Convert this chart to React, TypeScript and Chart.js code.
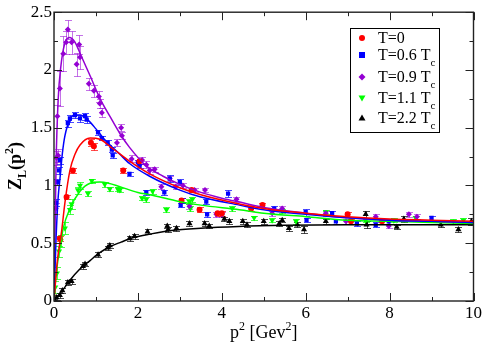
import React, { useEffect, useRef } from "react";
import { Chart, registerables } from "chart.js";
Chart.register(...registerables);

// ---------- tick labels ----------
const X_TICKS = [0, 2, 4, 6, 8, 10];
const Y_TICKS = [0, 0.5, 1, 1.5, 2, 2.5];

// ---------- legend ----------
const LEGEND_MAIN = ["T=0", "T=0.6 T", "T=0.9 T", "T=1.1 T", "T=2.2 T"];
const LEGEND_SUB = ["", "c", "c", "c", "c"];

// ---------- T=0 (red) ----------
const T0_X = [0.14, 0.3, 0.45, 0.88, 0.95, 1.65, 2.04, 3.04, 3.28, 3.47, 3.9, 4.0, 4.7, 4.97, 7.0, 7.08, 7.82];
const T0_Y = [0.54, 0.9, 1.13, 1.37, 1.34, 1.13, 1.21, 0.87, 0.96, 0.79, 0.76, 0.76, 0.8, 0.83, 0.75, 0.69, 0.69];
const T0_E = [0.02, 0.02, 0.02, 0.03, 0.03, 0.02, 0.02, 0.02, 0.02, 0.02, 0.02, 0.02, 0.02, 0.02, 0.02, 0.02, 0.02];
const FIT_T0_X = [0, 0.08, 0.18, 0.26, 0.38, 0.5, 0.62, 0.86, 1.09, 1.4, 1.8, 2.28, 3.0, 3.5, 4.42, 5, 6, 7, 8, 9, 10];
const FIT_T0_Y = [0, 0.35, 0.6, 0.85, 1.13, 1.27, 1.35, 1.41, 1.4, 1.32, 1.21, 1.1, 0.98, 0.92, 0.84, 0.8, 0.76, 0.73, 0.71, 0.7, 0.69];

// ---------- T=0.6 Tc (blue) ----------
const T06_X = [0.05, 0.07, 0.12, 0.14, 0.33, 0.38, 0.5, 0.62, 0.74, 0.78, 1.05, 1.14, 1.28, 1.38, 1.4, 1.8, 2.0, 2.04, 2.2, 2.63, 2.76, 3.0, 3.04, 3.02, 3.63, 3.65, 4.15, 5.25, 6.0, 6.02, 6.63, 6.72, 7.22, 7.67, 7.98, 9.0];
const T06_Y = [0.85, 1.03, 1.13, 1.22, 1.54, 1.58, 1.61, 1.58, 1.6, 1.57, 1.46, 1.41, 1.37, 1.31, 1.26, 1.1, 1.2, 1.17, 0.94, 0.94, 1.06, 1.03, 0.87, 0.83, 0.86, 0.75, 0.93, 0.8, 0.77, 0.7, 0.76, 0.69, 0.67, 0.66, 0.69, 0.72];
const T06_E = [0.03, 0.03, 0.03, 0.03, 0.03, 0.03, 0.03, 0.03, 0.03, 0.03, 0.02, 0.02, 0.02, 0.02, 0.02, 0.02, 0.02, 0.02, 0.02, 0.02, 0.03, 0.03, 0.02, 0.02, 0.02, 0.02, 0.03, 0.02, 0.03, 0.02, 0.02, 0.02, 0.02, 0.02, 0.02, 0.02];
const FIT_T06_X = [0, 0.05, 0.1, 0.14, 0.2, 0.26, 0.38, 0.5, 0.62, 0.8, 1.0, 1.2, 1.57, 1.8, 2.28, 3.0, 3.5, 4.42, 5, 6, 7, 8, 9, 10];
const FIT_T06_Y = [0, 0.55, 0.9, 1.05, 1.28, 1.43, 1.57, 1.61, 1.61, 1.57, 1.49, 1.4, 1.27, 1.19, 1.08, 0.96, 0.9, 0.83, 0.79, 0.75, 0.72, 0.7, 0.69, 0.68];

// ---------- T=0.9 Tc (purple) ----------
const T09_X = [0.04, 0.06, 0.08, 0.1, 0.14, 0.22, 0.29, 0.33, 0.42, 0.54, 0.6, 0.62, 0.83, 0.95, 1.07, 1.09, 1.14, 1.5, 1.6, 1.62, 1.85, 2.1, 2.2, 2.28, 2.4, 2.56, 2.76, 2.9, 3.07, 3.23, 3.35, 3.6, 3.87, 4.0, 4.35, 5.2, 5.44, 6.48, 6.96, 7.67, 7.98, 8.46, 8.65];
const T09_Y = [0.8, 1.24, 1.6, 1.26, 1.84, 2.14, 2.24, 2.35, 2.24, 2.05, 2.22, 2.11, 1.88, 1.82, 1.77, 1.71, 1.63, 1.37, 1.5, 1.43, 1.23, 1.22, 1.18, 1.13, 1.14, 0.99, 1.06, 0.99, 1.0, 0.82, 0.96, 0.96, 0.75, 0.75, 0.88, 0.76, 0.8, 0.76, 0.69, 0.73, 0.65, 0.75, 0.73];
const T09_E = [0.05, 0.06, 0.1, 0.06, 0.15, 0.15, 0.1, 0.08, 0.1, 0.1, 0.08, 0.1, 0.05, 0.05, 0.05, 0.04, 0.04, 0.03, 0.03, 0.03, 0.03, 0.03, 0.03, 0.03, 0.02, 0.02, 0.02, 0.02, 0.02, 0.02, 0.02, 0.02, 0.02, 0.02, 0.02, 0.02, 0.02, 0.02, 0.02, 0.02, 0.02, 0.02, 0.02];
const FIT_T09_X = [0, 0.05, 0.1, 0.16, 0.25, 0.37, 0.5, 0.65, 0.86, 1.1, 1.33, 1.57, 1.8, 2.2, 2.6, 3.0, 3.5, 4.0, 4.5, 5, 6, 7, 8, 9, 10];
const FIT_T09_Y = [0, 1.2, 1.75, 2.02, 2.22, 2.28, 2.24, 2.12, 1.95, 1.75, 1.6, 1.45, 1.33, 1.17, 1.08, 1.01, 0.94, 0.89, 0.85, 0.81, 0.76, 0.72, 0.7, 0.69, 0.68];

// ---------- T=1.1 Tc (green) ----------
const T11_X = [0.03, 0.07, 0.12, 0.16, 0.26, 0.38, 0.42, 0.57, 0.62, 0.81, 0.9, 1.21, 1.33, 1.52, 1.57, 2.1, 2.2, 2.35, 2.68, 3.23, 3.3, 3.25, 4.25, 4.77, 5.2, 5.44, 5.77, 6.48, 7.43, 8.1, 8.62, 9.52, 9.76];
const T11_Y = [0.12, 0.24, 0.43, 0.52, 0.63, 0.79, 0.84, 0.96, 1.0, 0.93, 1.04, 1.01, 0.97, 0.97, 0.96, 0.89, 0.88, 0.95, 0.79, 0.86, 0.88, 0.8, 0.8, 0.72, 0.7, 0.78, 0.69, 0.77, 0.7, 0.7, 0.72, 0.69, 0.7];
const T11_E = [0.05, 0.05, 0.05, 0.05, 0.05, 0.04, 0.04, 0.03, 0.03, 0.02, 0.02, 0.02, 0.02, 0.02, 0.02, 0.02, 0.02, 0.02, 0.02, 0.02, 0.02, 0.02, 0.02, 0.02, 0.02, 0.02, 0.02, 0.02, 0.02, 0.02, 0.02, 0.02, 0.02];
const FIT_T11_X = [0, 0.03, 0.07, 0.15, 0.22, 0.38, 0.62, 0.86, 1.09, 1.3, 1.57, 2.0, 2.28, 3.0, 3.5, 4.42, 5, 6, 7, 8, 9, 10];
const FIT_T11_Y = [0, 0.15, 0.29, 0.48, 0.63, 0.8, 0.95, 1.02, 1.03, 1.02, 0.99, 0.94, 0.92, 0.86, 0.83, 0.79, 0.76, 0.73, 0.7, 0.69, 0.68, 0.67];

// ---------- T=2.2 Tc (black) ----------
const T22_X = [0.02, 0.06, 0.14, 0.2, 0.33, 0.42, 0.69, 0.74, 1.05, 1.28, 1.33, 1.8, 1.92, 2.23, 2.7, 2.72, 2.92, 3.23, 3.59, 3.7, 4.06, 4.18, 4.5, 4.6, 5.0, 5.37, 5.44, 5.6, 5.8, 5.96, 6.48, 7.43, 7.45, 8.17, 8.34, 9.22, 9.64, 9.95];
const T22_Y = [0.01, 0.03, 0.05, 0.09, 0.16, 0.17, 0.3, 0.32, 0.4, 0.46, 0.48, 0.54, 0.56, 0.6, 0.65, 0.62, 0.63, 0.67, 0.67, 0.65, 0.71, 0.69, 0.69, 0.66, 0.69, 0.67, 0.7, 0.63, 0.66, 0.62, 0.69, 0.75, 0.66, 0.64, 0.71, 0.66, 0.62, 0.69];
const T22_E = [0.02, 0.02, 0.02, 0.02, 0.02, 0.02, 0.02, 0.02, 0.02, 0.02, 0.02, 0.02, 0.02, 0.02, 0.02, 0.02, 0.02, 0.02, 0.02, 0.02, 0.02, 0.02, 0.02, 0.02, 0.02, 0.02, 0.02, 0.02, 0.02, 0.03, 0.02, 0.03, 0.03, 0.02, 0.03, 0.02, 0.02, 0.03];
const FIT_T22_X = [0, 0.2, 0.38, 0.6, 0.86, 1.1, 1.33, 1.6, 1.9, 2.3, 2.8, 3.5, 4.4, 5.5, 7, 8.5, 10];
const FIT_T22_Y = [0, 0.09, 0.18, 0.27, 0.35, 0.42, 0.47, 0.51, 0.55, 0.58, 0.61, 0.63, 0.645, 0.655, 0.66, 0.66, 0.66];

const RED = "#ff0000";
const BLUE = "#0000ff";
const PURPLE = "#9400d3";
const GREEN = "#00ff00";
const BLACK = "#000000";

const SERIF = "'Liberation Serif', 'Times New Roman', serif";

const pts = (xs: number[], ys: number[]) => xs.map((x, i) => ({ x, y: ys[i] }));

function scatterDs(xs: number[], ys: number[], es: number[], color: string, style: string, rot = 0, r = 3, errAlpha = 0.7) {
  return {
    data: pts(xs, ys),
    errs: es,
    errColor: color,
    errAlpha,
    showLine: false,
    pointStyle: style,
    rotation: rot,
    pointRadius: r,
    pointBackgroundColor: color,
    pointBorderColor: color,
    pointBorderWidth: 0,
    backgroundColor: color,
    borderColor: color,
  };
}

function fitDs(xs: number[], ys: number[], color: string) {
  return {
    data: pts(xs, ys),
    showLine: true,
    pointRadius: 0,
    borderColor: color,
    borderWidth: 1.5,
    cubicInterpolationMode: "monotone",
    fill: false,
  };
}

const errorBarPlugin = {
  id: "errbars",
  beforeDatasetsDraw(chart: any) {
    const { ctx, scales } = chart;
    const xs = scales.x, ys = scales.y;
    const area = chart.chartArea;
    ctx.save();
    ctx.beginPath();
    ctx.rect(area.left, area.top, area.right - area.left, area.bottom - area.top);
    ctx.clip();
    chart.data.datasets.forEach((ds: any) => {
      if (!ds.errs) return;
      ctx.strokeStyle = ds.errColor;
      ctx.globalAlpha = ds.errAlpha;
      ctx.lineWidth = 1;
      ds.data.forEach((p: any, i: number) => {
        const e = ds.errs[i];
        const px = Math.round(xs.getPixelForValue(p.x)) + 0.5;
        const y1 = Math.round(ys.getPixelForValue(p.y - e)) + 0.5;
        const y2 = Math.round(ys.getPixelForValue(p.y + e)) + 0.5;
        ctx.beginPath();
        ctx.moveTo(px, y1);
        ctx.lineTo(px, y2);
        ctx.moveTo(px - 3.5, y1);
        ctx.lineTo(px + 3.5, y1);
        ctx.moveTo(px - 3.5, y2);
        ctx.lineTo(px + 3.5, y2);
        ctx.stroke();
      });
    });
    ctx.restore();
  },
};

function drawRich(ctx: CanvasRenderingContext2D, parts: { t: string; size: number; dy: number }[], x: number, y: number, bold: boolean, align: "left" | "center") {
  const font = (s: number) => `${bold ? "bold " : ""}${s}px ${SERIF}`;
  let total = 0;
  parts.forEach((p) => {
    ctx.font = font(p.size);
    total += ctx.measureText(p.t).width;
  });
  let cx = align === "center" ? x - total / 2 : x;
  ctx.textAlign = "left";
  ctx.textBaseline = "alphabetic";
  parts.forEach((p) => {
    ctx.font = font(p.size);
    ctx.fillText(p.t, cx, y + p.dy);
    cx += ctx.measureText(p.t).width;
  });
}

const decorPlugin = {
  id: "decor",
  afterDraw(chart: any) {
    const { ctx, chartArea: a, scales } = chart;
    const xs = scales.x, ys = scales.y;
    ctx.save();
    ctx.strokeStyle = "#222";
    ctx.lineWidth = 1.4;
    ctx.strokeRect(a.left, a.top, a.right - a.left, a.bottom - a.top);
    ctx.lineWidth = 1;
    const major = 8, minor = 4;
    const line = (x1: number, y1: number, x2: number, y2: number) => {
      ctx.beginPath();
      ctx.moveTo(x1, y1);
      ctx.lineTo(x2, y2);
      ctx.stroke();
    };
    X_TICKS.forEach((v, i) => {
      const px = Math.round(xs.getPixelForValue(v)) + 0.5;
      line(px, a.bottom, px, a.bottom - major);
      line(px, a.top, px, a.top + major);
      if (i < X_TICKS.length - 1) {
        const m = Math.round(xs.getPixelForValue((v + X_TICKS[i + 1]) / 2)) + 0.5;
        line(m, a.bottom, m, a.bottom - minor);
        line(m, a.top, m, a.top + minor);
      }
    });
    Y_TICKS.forEach((v, i) => {
      const py = Math.round(ys.getPixelForValue(v)) + 0.5;
      line(a.left, py, a.left + major, py);
      line(a.right, py, a.right - major, py);
      if (i < Y_TICKS.length - 1) {
        const m = Math.round(ys.getPixelForValue((v + Y_TICKS[i + 1]) / 2)) + 0.5;
        line(a.left, m, a.left + minor, m);
        line(a.right, m, a.right - minor, m);
      }
    });

    // x title
    ctx.fillStyle = "#000";
    drawRich(
      ctx,
      [
        { t: "p", size: 18, dy: 0 },
        { t: "2", size: 12, dy: -8 },
        { t: " [Gev", size: 18, dy: 0 },
        { t: "2", size: 12, dy: -8 },
        { t: "]", size: 18, dy: 0 },
      ],
      (a.left + a.right) / 2,
      338,
      false,
      "center"
    );

    // y title
    ctx.save();
    ctx.translate(21, 166);
    ctx.rotate(-Math.PI / 2);
    drawRich(
      ctx,
      [
        { t: "Z", size: 18, dy: 0 },
        { t: "L", size: 12, dy: 5 },
        { t: "(p", size: 18, dy: 0 },
        { t: "2", size: 12, dy: -8 },
        { t: ")", size: 18, dy: 0 },
      ],
      0,
      0,
      true,
      "center"
    );
    ctx.restore();

    // legend
    const bx = 350.5, by = 28.5, bw = 89, bh = 104;
    ctx.fillStyle = "#fff";
    ctx.fillRect(bx, by, bw, bh);
    ctx.strokeStyle = "#000";
    ctx.lineWidth = 1;
    ctx.strokeRect(bx, by, bw, bh);
    const rows = [38, 55, 77, 98, 118];
    const colors = [RED, BLUE, PURPLE, GREEN, BLACK];
    const mx = 362;
    rows.forEach((ry, i) => {
      ctx.fillStyle = colors[i];
      ctx.beginPath();
      if (i === 0) {
        ctx.arc(mx, ry, 3, 0, Math.PI * 2);
      } else if (i === 1) {
        ctx.rect(mx - 3, ry - 3, 6, 6);
      } else if (i === 2) {
        ctx.moveTo(mx, ry - 3.5);
        ctx.lineTo(mx + 3.5, ry);
        ctx.lineTo(mx, ry + 3.5);
        ctx.lineTo(mx - 3.5, ry);
        ctx.closePath();
      } else if (i === 3) {
        ctx.moveTo(mx - 3.5, ry - 2.5);
        ctx.lineTo(mx + 3.5, ry - 2.5);
        ctx.lineTo(mx, ry + 3.5);
        ctx.closePath();
      } else {
        ctx.moveTo(mx - 3.5, ry + 2.5);
        ctx.lineTo(mx + 3.5, ry + 2.5);
        ctx.lineTo(mx, ry - 3.5);
        ctx.closePath();
      }
      ctx.fill();
      ctx.fillStyle = "#000";
      const parts = [{ t: LEGEND_MAIN[i], size: 16, dy: 0 }];
      if (LEGEND_SUB[i]) parts.push({ t: LEGEND_SUB[i], size: 11, dy: 6 });
      drawRich(ctx, parts, 378, ry + 5, false, "left");
    });
    ctx.restore();
  },
};

export default function App() {
  const ref = useRef<HTMLCanvasElement | null>(null);
  useEffect(() => {
    document.body.style.margin = "0";
    if (!ref.current) return;
    const chart = new Chart(ref.current, {
      type: "scatter",
      data: {
        datasets: [
          fitDs(FIT_T0_X, FIT_T0_Y, RED),
          fitDs(FIT_T06_X, FIT_T06_Y, BLUE),
          fitDs(FIT_T09_X, FIT_T09_Y, PURPLE),
          fitDs(FIT_T11_X, FIT_T11_Y, GREEN),
          fitDs(FIT_T22_X, FIT_T22_Y, BLACK),
          scatterDs(T0_X, T0_Y, T0_E, RED, "circle", 0, 3),
          scatterDs(T06_X, T06_Y, T06_E, BLUE, "rect", 0, 3),
          scatterDs(T09_X, T09_Y, T09_E, PURPLE, "rectRot", 0, 3, 0.55),
          scatterDs(T11_X, T11_Y, T11_E, GREEN, "triangle", 180, 3.5),
          scatterDs(T22_X, T22_Y, T22_E, BLACK, "triangle", 0, 3.5),
        ] as any,
      },
      options: {
        animation: false,
        responsive: false,
        maintainAspectRatio: false,
        layout: { padding: { top: 8, right: 9, left: 0, bottom: 0 } },
        plugins: { legend: { display: false }, tooltip: { enabled: false } },
        scales: {
          x: {
            type: "linear",
            min: 0,
            max: 10,
            grid: { display: false, drawTicks: false },
            border: { display: false },
            ticks: {
              stepSize: 2,
              padding: 2,
              color: "#000",
              font: { family: SERIF, size: 17 },
              maxRotation: 0,
              callback: (v: any) => String(v),
            },
            afterFit: (s: any) => {
              s.height = 43;
            },
          },
          y: {
            type: "linear",
            min: 0,
            max: 2.5,
            grid: { display: false, drawTicks: false },
            border: { display: false },
            ticks: {
              stepSize: 0.5,
              padding: 2,
              color: "#000",
              font: { family: SERIF, size: 17 },
              callback: (v: any) => String(v),
            },
            afterFit: (s: any) => {
              s.width = 54;
            },
          },
        },
      } as any,
      plugins: [errorBarPlugin, decorPlugin],
    });
    return () => chart.destroy();
  }, []);
  return (
    <div style={{ width: 484, height: 344 }}>
      <canvas ref={ref} width={484} height={344} style={{ display: "block", width: 484, height: 344 }} />
    </div>
  );
}
